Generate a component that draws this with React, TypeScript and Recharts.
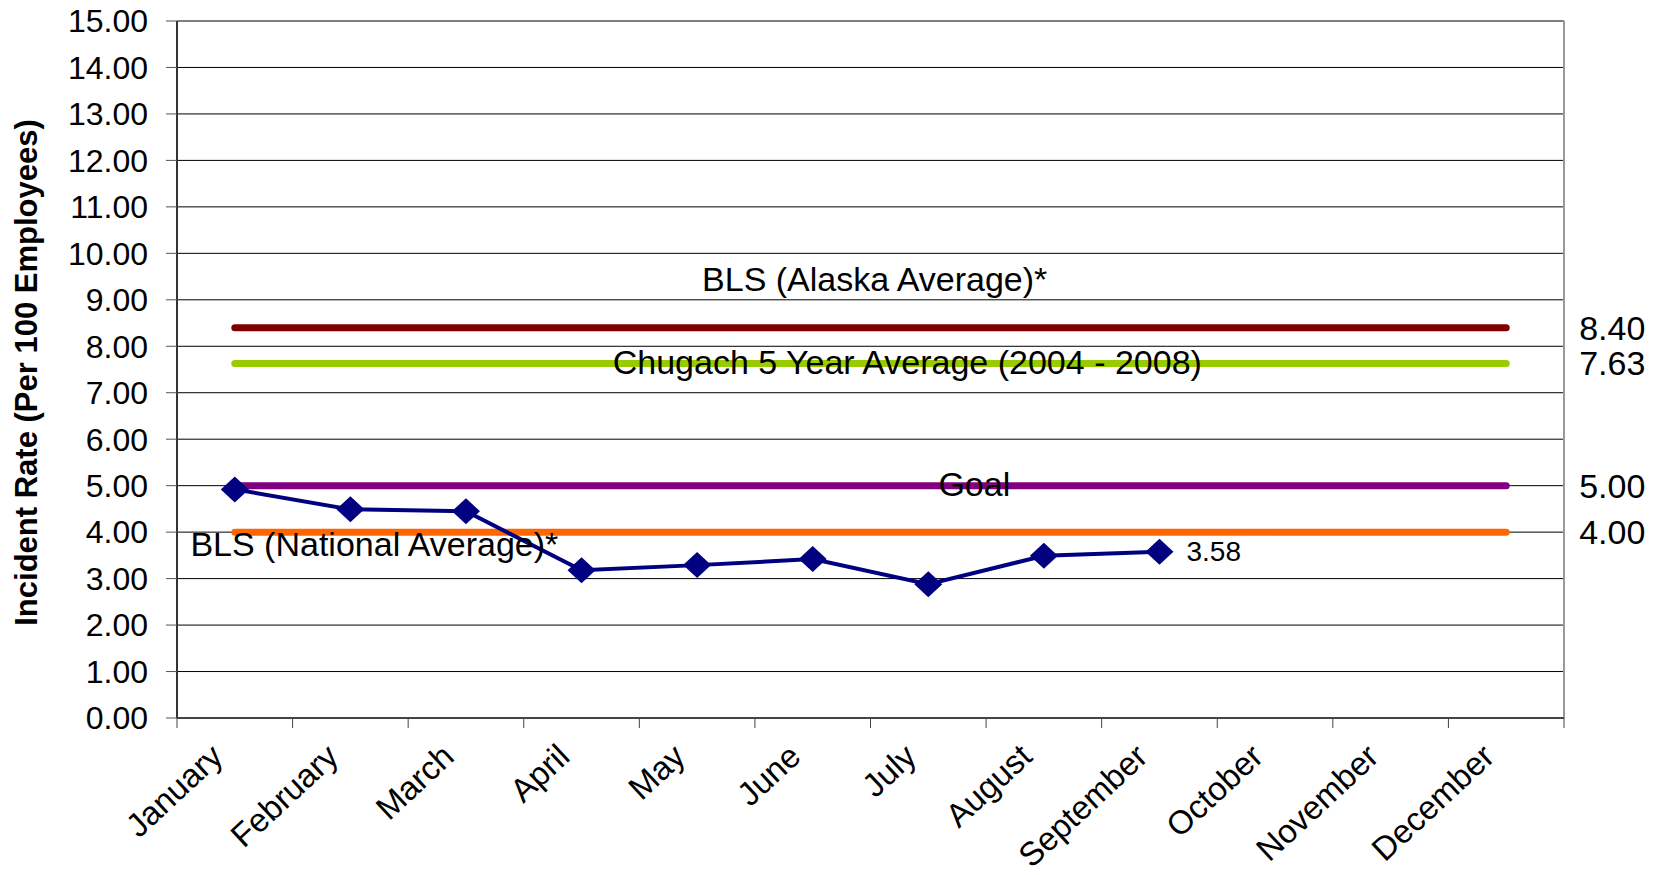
import React from "react";
import {
  LineChart,
  Line,
  XAxis,
  YAxis,
  CartesianGrid,
  ReferenceLine,
  LabelList,
} from "recharts";

const months = [
  "January", "February", "March", "April", "May", "June",
  "July", "August", "September", "October", "November", "December",
];
const incidentRate = [4.92, 4.49, 4.45, 3.18, 3.29, 3.42, 2.88, 3.49, 3.58, null, null, null];
const alaskaAverage = 8.4;
const chugachAverage = 7.63;
const goal = 5.0;
const nationalAverage = 4.0;
const yTicks = [0, 1, 2, 3, 4, 5, 6, 7, 8, 9, 10, 11, 12, 13, 14, 15];

const data = months.map((month, i) => ({
  pos: i + 0.5,
  month,
  rate: incidentRate[i],
  alaska: alaskaAverage,
  chugach: chugachAverage,
  goal,
  national: nationalAverage,
}));

// ticks on the month boundaries (lines) and the month centres (labels)
const xTicks = Array.from({ length: months.length * 2 + 1 }, (_, k) => k / 2);

const FONT = "'Liberation Sans', Arial, sans-serif";

function MonthTick(props: any) {
  const { x, y, payload } = props;
  const v = payload.value;
  if (Number.isInteger(v)) {
    return <line x1={x} x2={x} y1={y} y2={y + 10} stroke="#444" strokeWidth={1} />;
  }
  const label = months[Math.floor(v)];
  const tx = x - 10;
  const ty = y + 41;
  return (
    <text
      x={tx}
      y={ty}
      transform={`rotate(-43 ${tx} ${ty})`}
      textAnchor="end"
      fontSize={33}
      fontFamily={FONT}
      fill="#000"
    >
      {label}
    </text>
  );
}

function Diamond(props: any) {
  const { cx, cy } = props;
  if (cy == null || cx == null) return <g />;
  return (
    <path
      d={`M${cx} ${cy - 13} L${cx + 14} ${cy} L${cx} ${cy + 13} L${cx - 14} ${cy} Z`}
      fill="#000080"
    />
  );
}

// value label just outside the right edge, on the last point of a flat line
const endValue = (props: any) => {
  const { x, y, value, index } = props;
  if (index !== months.length - 1) return null;
  return (
    <text x={x + 73} y={y} dominantBaseline="central" fontSize={34} fontFamily={FONT} fill="#000">
      {Number(value).toFixed(2)}
    </text>
  );
};

// series name written on the chart, tied to one point of the line
const seriesName = (text: string, at: number, dx: number, dy: number) => (props: any) => {
  const { x, y, index } = props;
  if (index !== at) return null;
  return (
    <text
      x={x + dx}
      y={y + dy}
      textAnchor="middle"
      dominantBaseline="central"
      fontSize={34}
      fontFamily={FONT}
      fill="#000"
    >
      {text}
    </text>
  );
};

const rateLabel = (props: any) => {
  const { x, y, value, index } = props;
  if (index !== 8 || value == null) return null;
  return (
    <text x={x + 27} y={y} dominantBaseline="central" fontSize={28} fontFamily={FONT} fill="#000">
      {Number(value).toFixed(2)}
    </text>
  );
};

const yTitle = (props: any) => {
  const vb = props.viewBox || { x: 0, y: 21, width: 177, height: 697 };
  const tx = vb.x + 26;
  const ty = vb.y + vb.height / 2 + 3;
  return (
    <text
      x={tx}
      y={ty}
      transform={`rotate(-90 ${tx} ${ty})`}
      textAnchor="middle"
      dominantBaseline="central"
      fontSize={31}
      fontWeight="bold"
      fontFamily={FONT}
      fill="#000"
    >
      Incident Rate (Per 100 Employees)
    </text>
  );
};

export default function App() {
  return (
    <div style={{ position: "absolute", left: 0, top: 0, background: "#fff" }}>
      <LineChart
        width={1664}
        height={875}
        data={data}
        margin={{ top: 21, right: 100, bottom: 0, left: 0 }}
      >
        <CartesianGrid vertical={false} stroke="#000" strokeWidth={1} />
        <XAxis
          type="number"
          dataKey="pos"
          domain={[0, 12]}
          ticks={xTicks}
          interval={0}
          tickLine={false}
          tickSize={0}
          tickMargin={0}
          tick={<MonthTick />}
          axisLine={{ stroke: "#444", strokeWidth: 2 }}
          height={157}
        />
        <YAxis
          domain={[0, 15]}
          ticks={yTicks}
          interval={0}
          width={177}
          tickSize={11}
          tickMargin={18}
          tickFormatter={(v: number) => v.toFixed(2)}
          tick={{ fontSize: 32, fill: "#000", fontFamily: FONT }}
          tickLine={{ stroke: "#555" }}
          axisLine={{ stroke: "#333", strokeWidth: 2 }}
          label={{ content: yTitle }}
        />
        <ReferenceLine x={12} stroke="#999" strokeWidth={2} />

        <Line
          dataKey="alaska"
          stroke="#800000"
          strokeWidth={7}
          strokeLinecap="round"
          dot={false}
          activeDot={false}
          isAnimationActive={false}
        >
          <LabelList dataKey="alaska" content={endValue} />
          <LabelList dataKey="alaska" content={seriesName("BLS (Alaska Average)*", 5, 62, -49)} />
        </Line>
        <Line
          dataKey="national"
          stroke="#FF6600"
          strokeWidth={7}
          strokeLinecap="round"
          dot={false}
          activeDot={false}
          isAnimationActive={false}
        >
          <LabelList dataKey="national" content={endValue} />
          <LabelList dataKey="national" content={seriesName("BLS (National Average)*", 1, 24, 12)} />
        </Line>
        <Line
          dataKey="goal"
          stroke="#800080"
          strokeWidth={7}
          strokeLinecap="round"
          dot={false}
          activeDot={false}
          isAnimationActive={false}
        >
          <LabelList dataKey="goal" content={endValue} />
          <LabelList dataKey="goal" content={seriesName("Goal", 6, 46, -2)} />
        </Line>
        <Line
          dataKey="chugach"
          stroke="#99CC00"
          strokeWidth={7}
          strokeLinecap="round"
          dot={false}
          activeDot={false}
          isAnimationActive={false}
        >
          <LabelList dataKey="chugach" content={endValue} />
          <LabelList
            dataKey="chugach"
            content={seriesName("Chugach 5 Year Average (2004 - 2008)", 6, -21, -1)}
          />
        </Line>
        <Line
          dataKey="rate"
          stroke="#000080"
          strokeWidth={4}
          dot={<Diamond />}
          activeDot={false}
          connectNulls={false}
          isAnimationActive={false}
        >
          <LabelList dataKey="rate" content={rateLabel} />
        </Line>
      </LineChart>
    </div>
  );
}
